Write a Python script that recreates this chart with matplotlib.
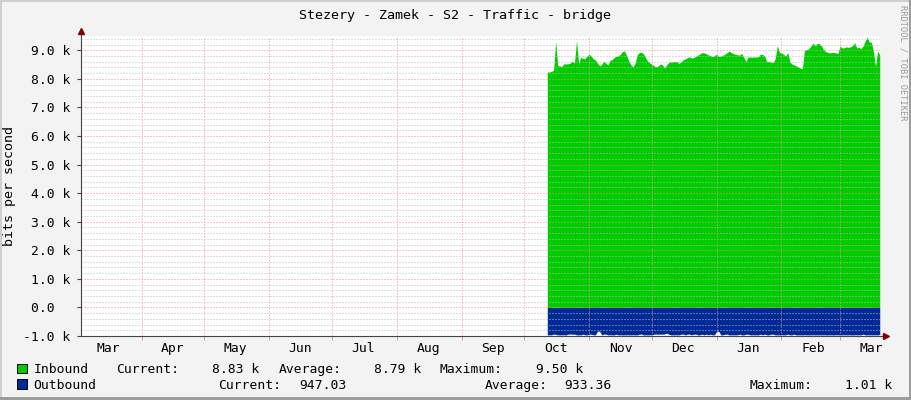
import datetime as dt
import numpy as np
import matplotlib
matplotlib.use('Agg')
import matplotlib.pyplot as plt
import matplotlib.dates as mdates
from matplotlib.ticker import MultipleLocator, FuncFormatter, NullFormatter
from matplotlib.patches import Rectangle

plt.rcParams['font.family'] = 'DejaVu Sans Mono'

W, H = 911, 400

title = 'Stezery - Zamek - S2 - Traffic - bridge'
ylabel = 'bits per second'
credit = 'RRDTOOL / TOBI OETIKER'

x_start = dt.datetime(2022, 3, 3)
x_end = dt.datetime(2023, 3, 20, 3)
data_start = dt.datetime(2022, 10, 12)

# daily inbound, in k bits/s
inbound_k = [
    8.24, 8.24, 8.26, 8.30, 9.31, 8.47, 8.45, 8.44, 8.53, 8.52,
    8.53, 8.55, 8.62, 8.55, 9.35, 8.53, 8.76, 8.71, 8.70, 8.80,
    8.86, 8.80, 8.70, 8.66, 8.55, 8.46, 8.50, 8.62, 8.55, 8.48,
    8.65, 8.67, 8.75, 8.79, 8.81, 8.86, 8.96, 8.97, 8.80, 8.62,
    8.50, 8.41, 8.55, 8.84, 8.92, 8.93, 8.88, 8.74, 8.62, 8.56,
    8.51, 8.46, 8.42, 8.45, 8.52, 8.50, 8.38, 8.48, 8.57, 8.59,
    8.59, 8.61, 8.60, 8.54, 8.60, 8.66, 8.70, 8.74, 8.77, 8.73,
    8.74, 8.79, 8.83, 8.87, 8.92, 8.91, 8.88, 8.84, 8.81, 8.78,
    8.83, 8.85, 8.79, 8.79, 8.83, 8.86, 8.92, 8.97, 8.92, 8.88,
    8.86, 8.84, 8.83, 8.89, 8.75, 8.60, 8.77, 8.76, 8.76, 8.77,
    8.76, 8.78, 8.87, 8.85, 8.79, 8.60, 8.62, 8.57, 8.58, 8.70,
    9.16, 8.94, 8.90, 8.86, 8.80, 8.92, 8.60, 8.52, 8.49, 8.46,
    8.41, 8.38, 8.35, 9.00, 9.02, 9.05, 9.14, 9.25, 9.18, 9.23,
    9.24, 9.17, 9.04, 8.96, 8.93, 8.91, 8.92, 8.92, 8.91, 8.89,
    9.15, 9.08, 9.09, 9.12, 9.10, 9.12, 9.16, 9.27, 9.08, 9.11,
    9.05, 9.15, 9.32, 9.46, 9.29, 9.28, 8.95, 8.43, 8.98, 8.83,
]

# daily outbound, bits/s (drawn below zero)
outbound = [
    962, 960, 958, 935, 940, 962, 961, 960, 959, 962,
    935, 930, 938, 935, 961, 960, 962, 937, 958, 962,
    940, 936, 958, 961, 835, 828, 960, 938, 935, 962,
    958, 962, 961, 940, 963, 960, 962, 961, 959, 962,
    960, 958, 962, 961, 938, 932, 962, 960, 961, 958,
    962, 936, 934, 938, 935, 937, 932, 900, 935, 960,
    962, 958, 961, 960, 936, 934, 962, 937, 935, 961,
    938, 936, 962, 960, 937, 961, 935, 962, 938, 961,
    960, 832, 835, 962, 958, 938, 936, 962, 961, 960,
    962, 958, 937, 962, 961, 936, 938, 962, 960, 958,
    961, 962, 937, 960, 936, 962, 961, 938, 935, 962,
    960, 962, 958, 961, 962, 936, 962, 960, 938, 962,
    961, 960, 962, 958, 961, 962, 960, 958, 962, 961,
    960, 962, 958, 961, 962, 960, 961, 962, 958, 960,
    962, 961, 958, 962, 960, 961, 962, 960, 958, 962,
    961, 935, 962, 960, 958, 962, 961, 960, 962, 947,
]

legend_names = ['Inbound', 'Outbound']
legend_colors = ['#00CC00', '#002A97']
# (x pixel, text) for each legend row
legend_row1 = [(116.7, 'Current:'), (212.3, '8.83 k'), (279.3, 'Average:'),
               (375.0, '8.79 k'), (440.7, 'Maximum:'), (536.7, '9.50 k')]
legend_row2 = [(219.3, 'Current:'), (300.0, '947.03'), (485.0, 'Average:'),
               (565.0, '933.36'), (750.0, 'Maximum:'), (845.7, '1.01 k')]

FS = 9.4
BG = '#F3F3F3'
GRID_RED = '#EE9090'
GRID_GRAY = '#BDBDBD'
GRID_LS = (0, (1, 2))
GRID_LW = 0.72

fig = plt.figure(figsize=(W / 100, H / 100), dpi=100, facecolor=BG)
ax = fig.add_axes([81 / W, 64 / H, 799 / W, 300 / H])
ax.set_facecolor('white')

days = mdates.date2num(data_start) + np.arange(len(inbound_k))
ax.fill_between(days, 0, np.array(inbound_k) * 1000, color='#00CC00', lw=0)
ax.fill_between(days, 0, -np.array(outbound), color='#002A97', lw=0)

ax.set_xlim(mdates.date2num(x_start), mdates.date2num(x_end))
ax.set_ylim(-1000, 9500)

# y axis
ax.yaxis.set_major_locator(MultipleLocator(1000))
ax.yaxis.set_minor_locator(MultipleLocator(200))


def fmt_k(v, pos):
    if abs(v) < 1e-9:
        return '0.0  '
    return f'{v / 1000:.1f} k'


ax.yaxis.set_major_formatter(FuncFormatter(fmt_k))
ax.tick_params(axis='y', which='major', length=3, width=0.8, color='#444444',
               pad=4.5, labelsize=FS)
ax.tick_params(axis='y', which='minor', length=0)

# x axis: month borders as grid, labels mid month
ax.xaxis.set_major_locator(mdates.MonthLocator())
ax.xaxis.set_major_formatter(NullFormatter())
ax.xaxis.set_minor_locator(mdates.MonthLocator(bymonthday=16))
ax.xaxis.set_minor_formatter(mdates.DateFormatter('%b'))
ax.tick_params(axis='x', which='major', length=3, width=0.7, color=GRID_RED)
ax.tick_params(axis='x', which='minor', length=0, pad=4, labelsize=FS)

ax.set_axisbelow(False)
ax.yaxis.grid(True, which='minor', color=GRID_GRAY, linestyle=GRID_LS, linewidth=GRID_LW)
ax.yaxis.grid(True, which='major', color=GRID_RED, linestyle=GRID_LS, linewidth=GRID_LW)
ax.xaxis.grid(True, which='major', color=GRID_RED, linestyle=GRID_LS, linewidth=GRID_LW)

for s in ['top', 'right']:
    ax.spines[s].set_visible(False)
for s in ['left', 'bottom']:
    ax.spines[s].set_color('#444444')
    ax.spines[s].set_linewidth(0.8)
    ax.spines[s].set_zorder(5)

# axis arrows
ax.plot([0, 0], [1, 1.015], transform=ax.transAxes, color='#444444', lw=0.8, clip_on=False)
ax.plot([1, 1.007], [0, 0], transform=ax.transAxes, color='#444444', lw=0.8, clip_on=False)
ax.plot([0], [1.018], marker='^', ms=4.5, color='#7F0000', transform=ax.transAxes, clip_on=False)
ax.plot([1.008], [0], marker='>', ms=4.5, color='#7F0000', transform=ax.transAxes, clip_on=False)

# texts
fig.text(455 / W, 1 - 19 / H, title, ha='center', va='baseline', fontsize=9.6)
fig.text(10 / W, 1 - 186 / H, ylabel, ha='center', va='center', rotation=90, fontsize=9.6)
fig.text(903 / W, 1 - 5 / H, credit, ha='center', va='top', rotation=270,
         fontsize=6.2, color='#9A9A9A')

# legend
baselines = [373.3, 388.7]
rows = [legend_row1, legend_row2]
for i in range(2):
    top = baselines[i] - 9.5
    fig.add_artist(Rectangle((17.3 / W, 1 - (top + 9.6) / H), 9.6 / W, 9.6 / H,
                             transform=fig.transFigure, facecolor=legend_colors[i],
                             edgecolor='black', lw=0.7))
    fig.text(33.6 / W, 1 - baselines[i] / H, legend_names[i], ha='left', va='baseline', fontsize=FS)
    for xp, txt in rows[i]:
        fig.text((xp - 0.7) / W, 1 - baselines[i] / H, txt, ha='left', va='baseline', fontsize=FS)

# frame around the picture
fig.add_artist(Rectangle((0, 1 - 2 / H), 1, 2 / H, transform=fig.transFigure, color='#CFCFCF', lw=0))
fig.add_artist(Rectangle((0, 0), 2 / W, 1, transform=fig.transFigure, color='#CFCFCF', lw=0))
fig.add_artist(Rectangle((0, 0), 1, 3 / H, transform=fig.transFigure, color='#9C9C9C', lw=0))
fig.add_artist(Rectangle((1 - 2 / W, 0), 2 / W, 1, transform=fig.transFigure, color='#9C9C9C', lw=0))

fig.savefig('out.png', dpi=100, facecolor=BG)
